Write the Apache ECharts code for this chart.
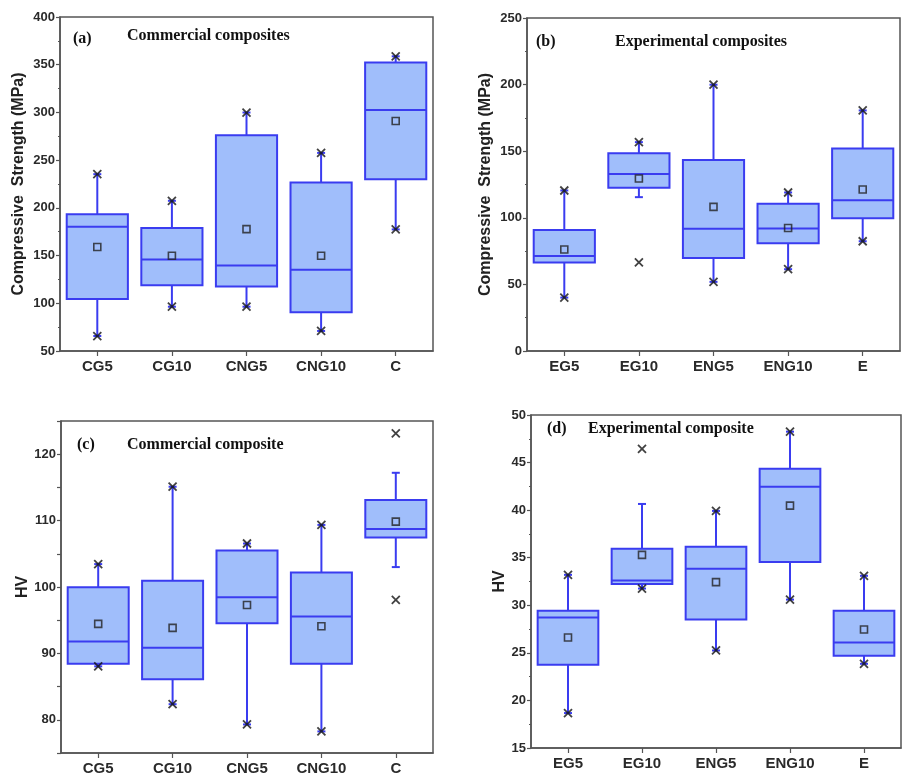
<!DOCTYPE html>
<html>
<head>
<meta charset="utf-8">
<script src="https://cdn.jsdelivr.net/npm/echarts@6/dist/echarts.min.js"></script>
<style>
html,body{margin:0;padding:0;background:#fff;}
#chart{width:906px;height:776px;}
</style>
</head>
<body>
<div id="chart"></div>
<script>
// ---------- Panel (a): Compressive strength, commercial ----------
const catsA = ['CG5', 'CG10', 'CNG5', 'CNG10', 'C'];
const lowA  = [65.7, 96.4, 96.4, 71, 177.4];
const q1A   = [104.5, 118.8, 117.7, 90.5, 230];
const medA  = [180.2, 146, 139.7, 135.2, 302.6];
const q3A   = [193.4, 178.8, 276.1, 226.6, 352.2];
const highA = [235.3, 207.4, 299.9, 257.6, 358.8];
const meanA = [159, 149.8, 177.7, 149.8, 291];
const minA  = [65.7, 96.4, 96.4, 71, 177.4];
const maxA  = [235.3, 207.4, 299.9, 257.6, 358.8];

// ---------- Panel (b): Compressive strength, experimental ----------
const catsB = ['EG5', 'EG10', 'ENG5', 'ENG10', 'E'];
const lowB  = [40.1, 115.5, 51.9, 61.4, 82.4];
const q1B   = [66.4, 122.5, 69.9, 80.9, 99.7];
const medB  = [71.4, 132.8, 91.7, 91.9, 113.2];
const q3B   = [90.9, 148.5, 143.3, 110.5, 152];
const highB = [120.5, 156.8, 199.9, 119, 180.6];
const meanB = [76.2, 129.5, 108.2, 92.3, 121.2];
const minB  = [40.1, 66.6, 51.9, 61.4, 82.4];
const maxB  = [120.5, 156.8, 199.9, 119, 180.6];

// ---------- Panel (c): HV, commercial ----------
const catsC = ['CG5', 'CG10', 'CNG5', 'CNG10', 'C'];
const lowC  = [88.05, 82.35, 79.3, 78.25, 103];
const q1C   = [88.45, 86.1, 94.55, 88.45, 107.45];
const medC  = [91.8, 90.85, 98.45, 95.55, 108.75];
const q3C   = [99.95, 100.95, 105.5, 102.2, 113.1];
const highC = [103.45, 115.1, 106.55, 109.35, 117.2];
const meanC = [94.45, 93.85, 97.3, 94.1, 109.85];
const minC  = [88.05, 82.35, 79.3, 78.25, 98.05];
const maxC  = [103.45, 115.1, 106.55, 109.35, 123.15];

// ---------- Panel (d): HV, experimental ----------
const catsD = ['EG5', 'EG10', 'ENG5', 'ENG10', 'E'];
const lowD  = [18.67, 31.76, 25.25, 30.6, 23.85];
const q1D   = [23.75, 32.25, 28.51, 34.56, 24.7];
const medD  = [28.72, 32.6, 33.83, 42.47, 26.1];
const q3D   = [29.42, 35.93, 36.14, 44.36, 29.42];
const highD = [33.2, 40.65, 39.92, 48.25, 33.1];
const meanD = [26.62, 35.3, 32.43, 40.48, 27.46];
const minD  = [18.67, 31.76, 25.25, 30.6, 23.85];
const maxD  = [33.2, 46.43, 39.92, 48.25, 33.1];

// Axis settings
const yNames  = ['Compressive  Strength (MPa)', 'Compressive  Strength (MPa)', 'HV', 'HV'];
const yMin    = [50, 0, 75, 15];
const yMax    = [400, 250, 125, 50];
const yStep   = [50, 50, 5, 5];
const panelLabels = ['(a)', '(b)', '(c)', '(d)'];
const panelTitles = ['Commercial composites', 'Experimental composites', 'Commercial composite', 'Experimental composite'];

const panels = [
  {cats: catsA, low: lowA, q1: q1A, med: medA, q3: q3A, high: highA, mean: meanA, min: minA, max: maxA},
  {cats: catsB, low: lowB, q1: q1B, med: medB, q3: q3B, high: highB, mean: meanB, min: minB, max: maxB},
  {cats: catsC, low: lowC, q1: q1C, med: medC, q3: q3C, high: highC, mean: meanC, min: minC, max: maxC},
  {cats: catsD, low: lowD, q1: q1D, med: medD, q3: q3D, high: highD, mean: meanD, min: minD, max: maxD}
];

// Layout (pixels)
const grids = [
  {left: 60, top: 17, width: 373, height: 334},
  {left: 527, top: 18, width: 373, height: 333},
  {left: 61, top: 421, width: 372, height: 333},
  {left: 531, top: 415, width: 370, height: 333}
];
const nameGaps = [33, 33, 28, 22];
const labelPos = [[73, 40], [536, 43], [77, 446], [547, 430]];
const titlePos = [[127, 37], [615, 43], [127, 446], [588, 430]];

const BLUE = '#3a3cf0';
const FILL = '#a0befb';
const AXIS = '#555';

function renderBox(params, api) {
  const i = api.value(0);
  const lo = api.coord([i, api.value(1)]);
  const q1 = api.coord([i, api.value(2)]);
  const md = api.coord([i, api.value(3)]);
  const q3 = api.coord([i, api.value(4)]);
  const hi = api.coord([i, api.value(5)]);
  const bw = api.size([1, 0])[0] * 0.82;
  const cx = lo[0];
  const cap = 4;
  const ls = {stroke: BLUE, lineWidth: 2};
  return {
    type: 'group',
    children: [
      {type: 'line', shape: {x1: cx, y1: lo[1], x2: cx, y2: q1[1]}, style: ls},
      {type: 'line', shape: {x1: cx, y1: q3[1], x2: cx, y2: hi[1]}, style: ls},
      {type: 'line', shape: {x1: cx - cap, y1: lo[1], x2: cx + cap, y2: lo[1]}, style: ls},
      {type: 'line', shape: {x1: cx - cap, y1: hi[1], x2: cx + cap, y2: hi[1]}, style: ls},
      {type: 'rect', shape: {x: cx - bw / 2, y: q3[1], width: bw, height: q1[1] - q3[1]},
        style: {fill: FILL, stroke: BLUE, lineWidth: 2}},
      {type: 'line', shape: {x1: cx - bw / 2, y1: md[1], x2: cx + bw / 2, y2: md[1]}, style: ls}
    ]
  };
}

const option = {
  animation: false,
  backgroundColor: '#fff',
  grid: grids.map(g => Object.assign({show: true, borderColor: AXIS, borderWidth: 1.5, backgroundColor: 'transparent'}, g)),
  xAxis: panels.map((p, k) => ({
    type: 'category', gridIndex: k, data: p.cats, boundaryGap: true,
    axisLine: {show: true, lineStyle: {color: AXIS, width: 1.5}},
    axisTick: {show: true, alignWithLabel: true, length: 5, lineStyle: {color: AXIS, width: 1.2}},
    axisLabel: {fontFamily: 'Liberation Sans', fontWeight: 'bold', fontSize: 15, color: '#2a2a2a', margin: 8},
    splitLine: {show: false}
  })),
  yAxis: panels.map((p, k) => ({
    type: 'value', gridIndex: k, min: yMin[k], max: yMax[k], interval: yStep[k],
    name: yNames[k], nameLocation: 'middle', nameGap: nameGaps[k],
    nameTextStyle: {fontFamily: 'Liberation Sans', fontWeight: 'bold', fontSize: 16, color: '#222'},
    axisLine: {show: true, lineStyle: {color: AXIS, width: 1.5}},
    axisTick: {show: true, length: 4, lineStyle: {color: AXIS, width: 1.2}},
    minorTick: {show: k !== 2, splitNumber: 2, length: 2, lineStyle: {color: AXIS, width: 1}},
    axisLabel: {
      fontFamily: 'Liberation Sans', fontWeight: 'bold', fontSize: 13, color: '#2a2a2a', margin: 5,
      formatter: (v) => (k === 2 && v % 10 !== 0) ? '' : String(v)
    },
    splitLine: {show: false}
  })),
  graphic: panelLabels.map((t, k) => ({
    type: 'text', left: labelPos[k][0], top: labelPos[k][1] - 9,
    style: {text: t, fontFamily: 'Liberation Serif', fontWeight: 'bold', fontSize: 16, fill: '#111'}
  })).concat(panelTitles.map((t, k) => ({
    type: 'text', left: titlePos[k][0], top: titlePos[k][1] - 9,
    style: {text: t, fontFamily: 'Liberation Serif', fontWeight: 'bold', fontSize: 16, fill: '#111'}
  }))),
  series: []
};

panels.forEach((p, k) => {
  option.series.push({
    type: 'custom', xAxisIndex: k, yAxisIndex: k, renderItem: renderBox, silent: true,
    encode: {x: 0, y: [1, 2, 3, 4, 5]},
    data: p.cats.map((c, i) => [i, p.low[i], p.q1[i], p.med[i], p.q3[i], p.high[i]]),
    z: 2
  });
  option.series.push({
    type: 'scatter', xAxisIndex: k, yAxisIndex: k, silent: true,
    symbol: 'path://M0,0L10,10M0,10L10,0', symbolSize: 8,
    itemStyle: {color: 'rgba(0,0,0,0)', borderColor: '#111', borderWidth: 1.8},
    data: p.cats.map((c, i) => [i, p.min[i]]).concat(p.cats.map((c, i) => [i, p.max[i]])),
    z: 4
  });
  option.series.push({
    type: 'scatter', xAxisIndex: k, yAxisIndex: k, silent: true,
    symbol: 'rect', symbolSize: 7,
    itemStyle: {color: 'rgba(0,0,0,0)', borderColor: '#222', borderWidth: 1.6},
    data: p.cats.map((c, i) => [i, p.mean[i]]),
    z: 4
  });
});

const chart = echarts.init(document.getElementById('chart'), null, {renderer: 'canvas'});
chart.setOption(option);
</script>
</body>
</html>
